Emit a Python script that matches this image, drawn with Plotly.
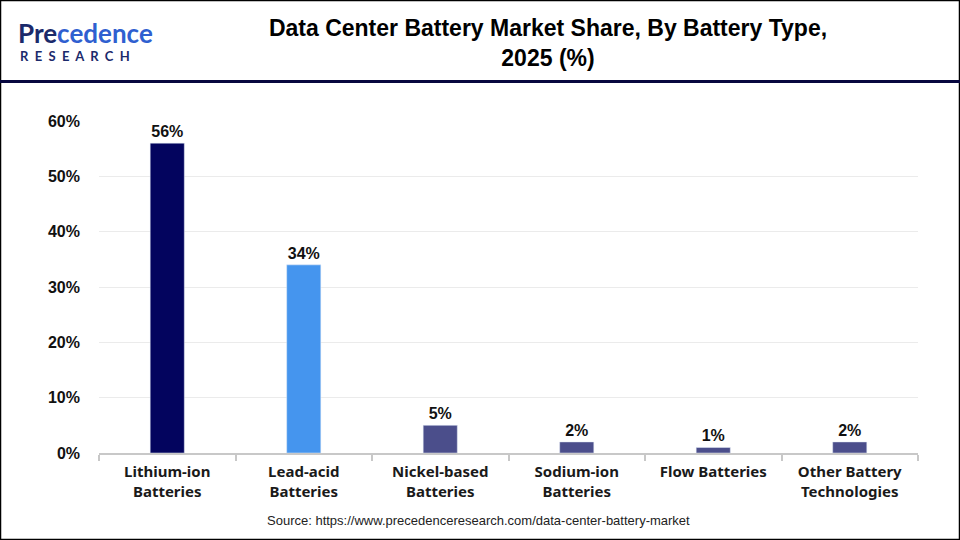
import plotly.graph_objects as go

categories = ["Lithium-ion<br>Batteries", "Lead-acid<br>Batteries", "Nickel-based<br>Batteries",
              "Sodium-ion<br>Batteries", "Flow Batteries", "Other Battery<br>Technologies"]
values = [56, 34, 5, 2, 1, 2]
bar_colors = ["#03045E", "#4595EE", "#4B4E8B", "#4B4E8B", "#4B4E8B", "#4B4E8B"]
y_ticks = [0, 10, 20, 30, 40, 50, 60]
title_text = "Data Center Battery Market Share, By Battery Type,<br>2025 (%)"
source_text = "Source: https://www.precedenceresearch.com/data-center-battery-market"

W, H = 960, 540
ML, MR, MT, MB = 99, 42, 121, 87
PW, PH = W - ML - MR, H - MT - MB

def px_x(x):
    return (x - ML) / PW

def px_y(y):
    return (H - MB - y) / PH

fig = go.Figure(go.Bar(
    x=categories, y=values, marker_color=bar_colors, width=0.25,
    text=[f"<b>{v}%</b>" for v in values], textposition="outside", cliponaxis=False,
    textfont=dict(family="Liberation Sans", size=16, color="#111111"),
))

fig.update_layout(
    width=W, height=H, margin=dict(l=ML, r=MR, t=MT, b=MB),
    paper_bgcolor="white", plot_bgcolor="white", showlegend=False,
    font=dict(family="Liberation Sans"),
    title=dict(text=f"<b>{title_text}</b>", x=px_x(548), xref="paper", xanchor="center",
               y=1 - 36 / H, yanchor="middle",
               font=dict(family="Liberation Sans", size=23, color="#000000")),
    xaxis=dict(showline=True, linecolor="#C8C8C8", linewidth=2, ticks="outside", tickson="boundaries",
               tickcolor="#C8C8C8", ticklen=6, tickwidth=2,
               tickfont=dict(family="Noto Sans", size=15, color="#1a1a1a"),
               tickprefix="<b>", ticksuffix="</b>", ticklabelstandoff=4),
    yaxis=dict(range=[0, 60], tickvals=y_ticks, ticktext=[f"<b>{t}%</b>" for t in y_ticks],
               showgrid=True, gridcolor="#EBEBEB", gridwidth=1, zeroline=False,
               tickfont=dict(family="Liberation Sans", size=16, color="#111111"), ticklabelstandoff=18),
)

shapes = [
    dict(type="rect", xref="paper", yref="paper", x0=px_x(0.5), x1=px_x(W - 0.5), y0=px_y(H - 0.5), y1=px_y(0.5),
         line=dict(color="#000000", width=1.5), fillcolor="rgba(0,0,0,0)", layer="above"),
    dict(type="line", xref="paper", yref="paper", x0=px_x(0), x1=px_x(W), y0=px_y(81.5), y1=px_y(81.5),
         line=dict(color="#07073F", width=3)),
]
fig.update_layout(shapes=shapes)

fig.add_annotation(text=source_text, xref="paper", yref="paper", x=px_x(478), y=px_y(530),
                   showarrow=False, font=dict(family="Liberation Sans", size=13, color="#222222"))
# logo text
fig.add_annotation(text="<b>Pre</b><b style='color:#2F5FD0'>cedence</b>", xref="paper", yref="paper",
                   x=px_x(16), y=px_y(33),
                   xanchor="left", yanchor="middle", showarrow=False,
                   font=dict(family="Lato", size=26, color="#1B2A6B"))
fig.add_annotation(text="<b>R&nbsp;&nbsp;E&nbsp;&nbsp;S&nbsp;&nbsp;E&nbsp;&nbsp;A&nbsp;&nbsp;R&nbsp;&nbsp;C&nbsp;&nbsp;H</b>",
                   xref="paper", yref="paper", x=px_x(18), y=px_y(56),
                   xanchor="left", yanchor="middle", showarrow=False,
                   font=dict(family="Lato", size=13, color="#1B2A6B"))

fig.write_html("out.html")
